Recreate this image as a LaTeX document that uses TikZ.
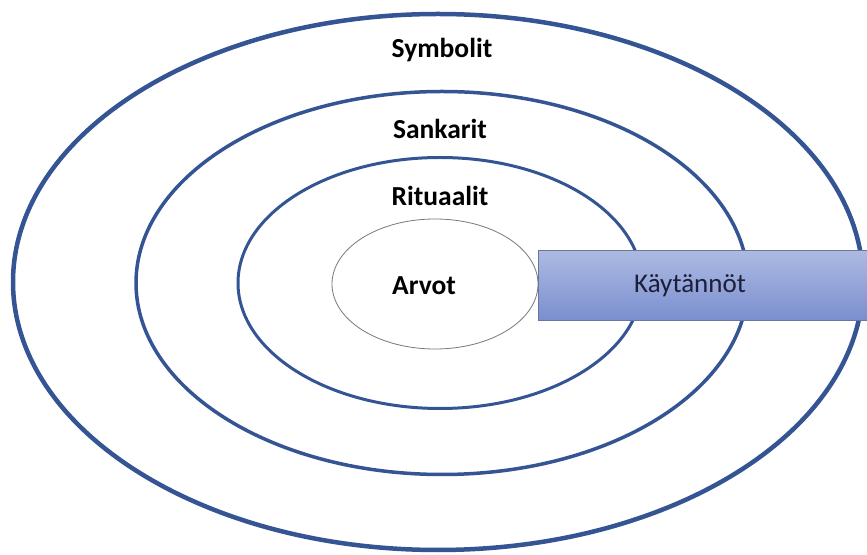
\documentclass[tikz,border=0pt]{standalone}
\usepackage{fontspec}
\setmainfont{Carlito}
\usetikzlibrary{shapes.geometric}
\definecolor{ringblue}{RGB}{52,84,148}
\definecolor{innergray}{RGB}{120,120,125}
\definecolor{boxtop}{RGB}{172,186,226}
\definecolor{boxbot}{RGB}{122,142,206}
\definecolor{boxline}{RGB}{105,118,160}
\definecolor{boxtext}{RGB}{28,30,58}
\tikzset{
  ring/.style={draw=ringblue, ellipse, inner sep=0pt},
  lbl/.style={font=\fontsize{27.5}{32}\selectfont\bfseries, text=black, inner sep=0pt},
}
\begin{document}
\begin{tikzpicture}[x=1pt,y=1pt]
\useasboundingbox (0,0) rectangle (867,554);
\clip (0,0) rectangle (867,554);
\fill[white] (0,0) rectangle (867,554);
\node[ring, line width=4.5pt, minimum width=850pt, minimum height=536pt] (outer) at (438,272) {};
\node[ring, line width=3.5pt, minimum width=612pt, minimum height=383pt] (second) at (442,271) {};
\node[ring, line width=3pt, minimum width=404pt, minimum height=251pt] (third) at (440,271) {};
\node[draw=innergray, line width=0.8pt, ellipse, inner sep=0pt, minimum width=206pt, minimum height=130pt] (core) at (435,270) {};
\node[lbl] (symbolit) at (442,504) {Symbolit};
\node[lbl] (sankarit) at (440,425) {Sankarit};
\node[lbl] (rituaalit) at (440,358) {Rituaalit};
\node[lbl] (arvot) at (424,268) {Arvot};
\shade[top color=boxtop, bottom color=boxbot, draw=boxline, line width=1pt] (538,233) rectangle (880,303);
\node[font=\fontsize{27}{32}\selectfont, text=boxtext, inner sep=0pt] (kaytannot) at (690,268) {Käytännöt};
\end{tikzpicture}
\end{document}
